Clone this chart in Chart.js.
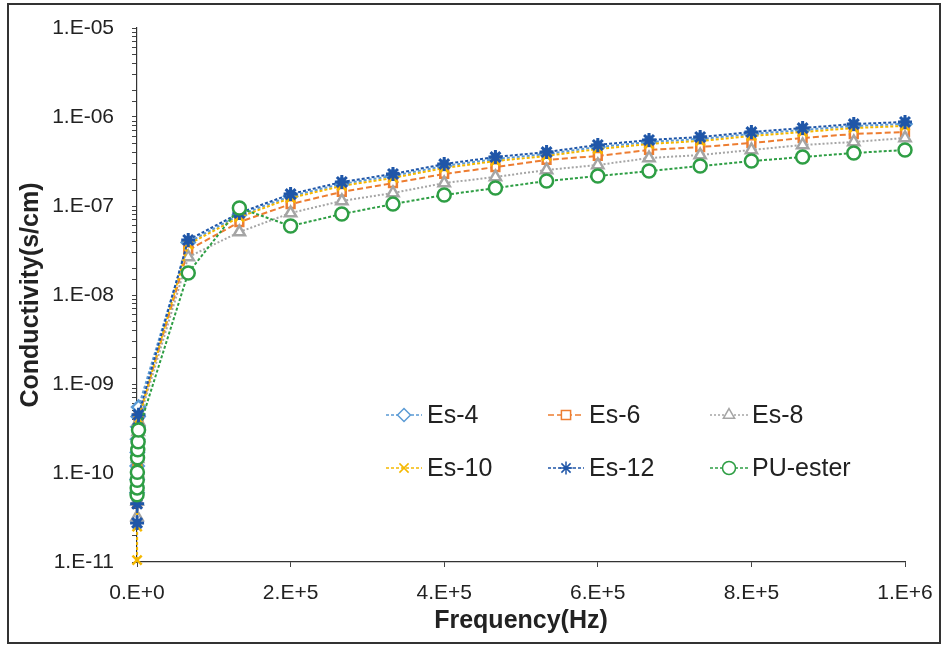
<!DOCTYPE html>
<html>
<head>
<meta charset="utf-8">
<script src="https://cdn.jsdelivr.net/npm/chart.js@4/dist/chart.umd.min.js"></script>
<style>
  html, body { margin: 0; padding: 0; background: #fff; }
  #wrap { width: 942px; height: 648px; }
</style>
</head>
<body>
<div id="wrap"><canvas id="cond" width="942" height="648"></canvas></div>
<script>
// frequencies (Hz): low-frequency sweep sits on x=0, then the linear part
const freq = [100, 200, 300, 500, 700, 1000, 1500, 2000,
  66700, 133300, 200000, 266700, 333300, 400000, 466700, 533300,
  600000, 666700, 733300, 800000, 866700, 933300, 1000000]

// conductivity (s/cm)
const es4 = [6.0e-11, 8.5e-11, 1.2e-10, 1.7e-10, 2.4e-10, 3.3e-10, 4.3e-10, 5.5e-10,
  3.9e-8, 7.9e-8, 1.29e-7, 1.77e-7, 2.18e-7, 2.81e-7, 3.37e-7, 3.84e-7,
  4.6e-7, 5.24e-7, 5.66e-7, 6.44e-7, 7.14e-7, 7.92e-7, 8.35e-7]
const es6 = [4.6e-11, 6.5e-11, 9.0e-11, 1.25e-10, 1.75e-10, 2.4e-10, 3.2e-10, 4.2e-10,
  3.2e-8, 6.6e-8, 1.05e-7, 1.44e-7, 1.81e-7, 2.29e-7, 2.74e-7, 3.29e-7,
  3.65e-7, 4.26e-7, 4.6e-7, 5.1e-7, 5.81e-7, 6.44e-7, 6.78e-7]
const es8 = [3.2e-11, 4.8e-11, 7.0e-11, 1.0e-10, 1.45e-10, 2.1e-10, 2.9e-10, 3.8e-10,
  2.67e-8, 5.1e-8, 8.34e-8, 1.14e-7, 1.4e-7, 1.81e-7, 2.12e-7, 2.54e-7,
  2.89e-7, 3.46e-7, 3.74e-7, 4.26e-7, 4.85e-7, 5.24e-7, 5.81e-7]
const es10 = [1.05e-11, 2.5e-11, 5.0e-11, 8.0e-11, 1.3e-10, 2.0e-10, 2.9e-10, 4.0e-10,
  3.7e-8, 7.5e-8, 1.23e-7, 1.68e-7, 2.07e-7, 2.67e-7, 3.2e-7, 3.65e-7,
  4.37e-7, 4.98e-7, 5.38e-7, 6.11e-7, 6.78e-7, 7.52e-7, 7.93e-7]
const es12 = [2.75e-11, 4.5e-11, 7.0e-11, 1.0e-10, 1.5e-10, 2.2e-10, 3.2e-10, 4.5e-10,
  4.15e-8, 8.34e-8, 1.36e-7, 1.86e-7, 2.29e-7, 2.96e-7, 3.55e-7, 4.04e-7,
  4.85e-7, 5.52e-7, 5.96e-7, 6.78e-7, 7.52e-7, 8.34e-7, 8.79e-7]
const puEster = [5.7e-11, 6.8e-11, 8.3e-11, 1.02e-10, 1.48e-10, 1.82e-10, 2.24e-10, 3.04e-10,
  1.77e-8, 9.5e-8, 5.96e-8, 8.13e-8, 1.05e-7, 1.33e-7, 1.59e-7, 1.91e-7,
  2.17e-7, 2.47e-7, 2.81e-7, 3.2e-7, 3.55e-7, 3.94e-7, 4.26e-7]

const seriesNames = ['Es-4', 'Es-6', 'Es-8', 'Es-10', 'Es-12', 'PU-ester']
const seriesValues = [es4, es6, es8, es10, es12, puEster]

const xTicks = [0, 200000, 400000, 600000, 800000, 1000000]

const colors = ['#5B9BD5', '#ED7D31', '#A5A5A5', '#F5B800', '#1F56A8', '#2E9E44']
const styles = ['rectRot', 'rect', 'triangle', 'crossRot', 'star', 'circle']
const dashes = [[3, 2], [6, 3], [2, 2], [3, 2], [3, 2], [3, 2]]
const fontFam = '"Liberation Sans", Arial, sans-serif'

function sciLabel(v, pad) {
  if (v === 0) return '0.E+0'
  const e = Math.floor(Math.log10(v) + 1e-9)
  const m = Math.round(v / Math.pow(10, e))
  let es = String(Math.abs(e))
  if (pad && es.length < 2) es = '0' + es
  return m + '.E' + (e < 0 ? '-' : '+') + es
}

const datasets = seriesNames.map((name, k) => ({
  label: name,
  data: freq.map((f, i) => ({ x: f, y: seriesValues[k][i] })),
  borderColor: colors[k],
  backgroundColor: '#ffffff',
  borderWidth: 2,
  borderDash: dashes[k],
  pointStyle: styles[k],
  pointRadius: styles[k] === 'rect' ? 5.5 : (styles[k] === 'star' ? 7 : 6.5),
  pointBorderWidth: styles[k] === 'star' ? 3 : 2.5,
  pointBorderColor: colors[k],
  pointBackgroundColor: '#ffffff',
  tension: 0,
  clip: 10,
  order: 6 - k
}))

// legend drawn inside the plot, 3 columns x 2 rows
const legendInside = {
  id: 'legendInside',
  afterDraw(chart) {
    const ctx = chart.ctx
    const cols = [[386, 422, 427], [548, 584, 589], [710, 748, 752]]
    const rows = [415, 468]
    ctx.save()
    seriesNames.forEach((name, k) => {
      const c = cols[k % 3], y = rows[Math.floor(k / 3)]
      ctx.strokeStyle = colors[k]
      ctx.lineWidth = 1.6
      ctx.setLineDash(dashes[k])
      ctx.beginPath()
      ctx.moveTo(c[0], y)
      ctx.lineTo(c[1], y)
      ctx.stroke()
      ctx.setLineDash([])
      ctx.fillStyle = '#ffffff'
      ctx.lineWidth = 1.5
      Chart.helpers.drawPoint(ctx, {
        pointStyle: styles[k], radius: 6.5, rotation: 0, borderWidth: 1.5
      }, (c[0] + c[1]) / 2, y)
      ctx.fillStyle = '#222'
      ctx.font = '25px ' + fontFam
      ctx.textBaseline = 'middle'
      ctx.textAlign = 'left'
      ctx.fillText(name, c[2], y + 1)
    })
    // outer frame
    ctx.strokeStyle = '#333'
    ctx.lineWidth = 2
    ctx.strokeRect(8, 4, 932, 639)
    ctx.restore()
  },
  beforeDraw(chart) {
    const ctx = chart.ctx
    ctx.save()
    ctx.fillStyle = '#fff'
    ctx.fillRect(0, 0, chart.width, chart.height)
    ctx.restore()
  }
}

const ctx = document.getElementById('cond').getContext('2d')

new Chart(ctx, {
  type: 'line',
  data: { datasets: datasets },
  options: {
    responsive: false,
    animation: false,
    layout: { padding: { left: 10, right: 37, top: 28, bottom: 8 } },
    plugins: { legend: { display: false }, tooltip: { enabled: false } },
    scales: {
      x: {
        type: 'linear',
        min: 0,
        max: 1000000,
        afterBuildTicks: s => { s.ticks = xTicks.map(v => ({ value: v })) },
        afterFit: s => { s.height = 78; s.paddingRight = 10; s.paddingLeft = 0 },
        border: { display: true, color: '#333', width: 1.2, dash: [5, 2, 1, 2] },
        grid: { display: true, drawOnChartArea: false, tickLength: 5, color: '#444' },
        ticks: {
          color: '#222',
          padding: 14,
          font: { family: fontFam, size: 21 },
          callback: v => sciLabel(v, false)
        },
        title: {
          display: true,
          text: 'Frequency(Hz)',
          color: '#222',
          padding: { top: 2, bottom: 4 },
          font: { family: fontFam, size: 25, weight: 'bold' }
        }
      },
      y: {
        type: 'logarithmic',
        min: 1e-11,
        max: 1e-5,
        afterFit: s => { s.width = 127; s.paddingTop = 0; s.paddingBottom = 0 },
        border: { display: true, color: '#333', width: 1.2, dash: [4, 2] },
        grid: { display: true, drawOnChartArea: false, tickLength: 5, color: '#444' },
        ticks: {
          autoSkip: false,
          color: '#222',
          padding: 18,
          font: { family: fontFam, size: 21 },
          callback: v => {
            const l = Math.log10(v)
            return Math.abs(l - Math.round(l)) < 1e-6 ? sciLabel(v, true) : ''
          }
        },
        title: {
          display: true,
          text: 'Conductivity(s/cm)',
          color: '#222',
          padding: { top: 6, bottom: 4 },
          font: { family: fontFam, size: 25, weight: 'bold' }
        }
      }
    }
  },
  plugins: [legendInside]
})
</script>
</body>
</html>
